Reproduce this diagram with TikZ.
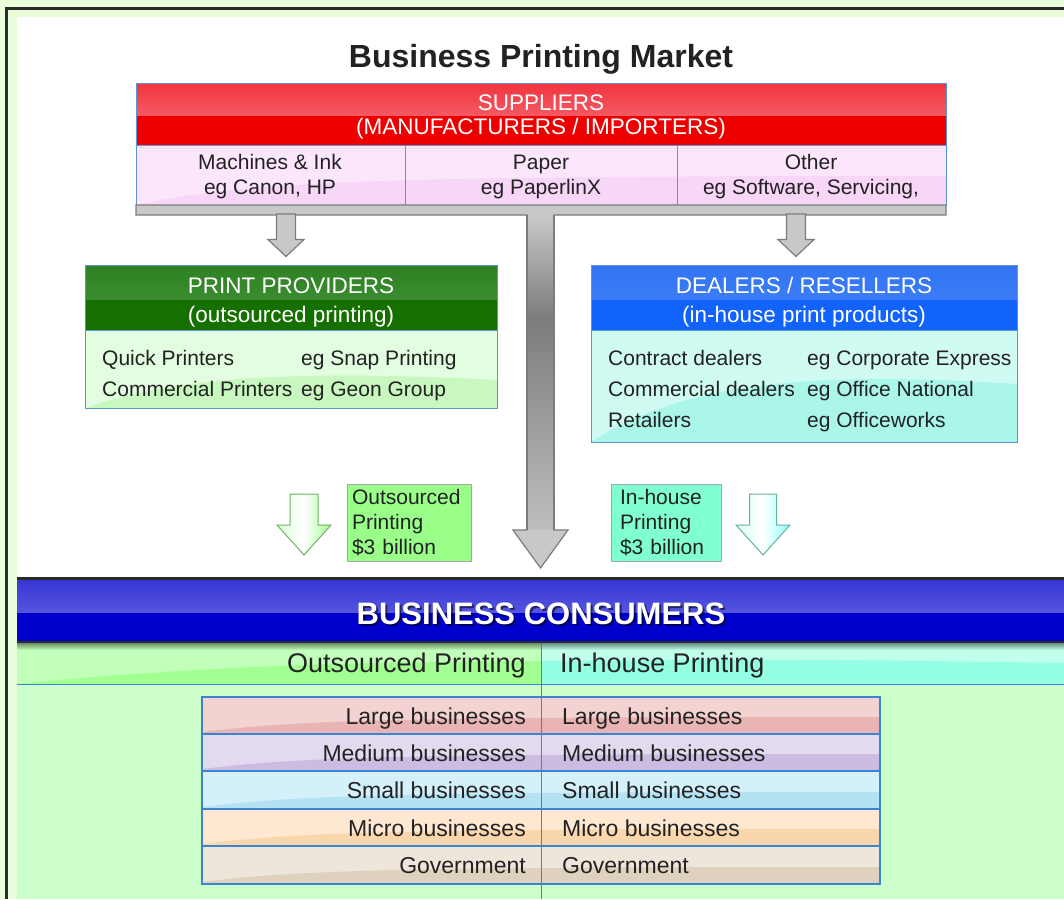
\documentclass[tikz,border=0pt]{standalone}
\usepackage{fontspec}
\setmainfont{Liberation Sans}
\usepackage{tikz}
\usetikzlibrary{calc}

\definecolor{framebg}{HTML}{EAFDDA}
\definecolor{framedk}{HTML}{2A2A2A}
\definecolor{boxline}{HTML}{5A96D6}
\definecolor{txtc}{HTML}{222222}
\definecolor{supA}{HTML}{F0343F}
\definecolor{supB}{HTML}{F55A64}
\definecolor{supC}{HTML}{EE0000}
\definecolor{pinkA}{HTML}{FCE6FC}
\definecolor{pinkB}{HTML}{F7D6F7}
\definecolor{grnA}{HTML}{2E8224}
\definecolor{grnB}{HTML}{3A8C2E}
\definecolor{grnC}{HTML}{167000}
\definecolor{lgA}{HTML}{E2FDE0}
\definecolor{lgB}{HTML}{C8F8C0}
\definecolor{bluA}{HTML}{3274F4}
\definecolor{bluB}{HTML}{3C7CF6}
\definecolor{bluC}{HTML}{1262FC}
\definecolor{cyA}{HTML}{D0FBF2}
\definecolor{cyB}{HTML}{AAF6E8}
\definecolor{grayF}{HTML}{C8C8C8}
\definecolor{grayD}{HTML}{7C7C7C}
\definecolor{outbox}{HTML}{99FF88}
\definecolor{inbox}{HTML}{80FFD0}
\definecolor{consA}{HTML}{3636D4}
\definecolor{consB}{HTML}{5656E0}
\definecolor{consC}{HTML}{0000CC}
\definecolor{bandgA}{HTML}{C2FFBA}
\definecolor{bandgB}{HTML}{A2FF92}
\definecolor{bandcA}{HTML}{C0FFEC}
\definecolor{bandcB}{HTML}{94FFE2}
\definecolor{bottombg}{HTML}{CCFFCC}
\definecolor{tline}{HTML}{3A84D0}
\definecolor{largeA}{HTML}{F3D2D2}
\definecolor{largeB}{HTML}{E8B4B4}
\definecolor{medA}{HTML}{E3DAF0}
\definecolor{medB}{HTML}{CDBCE2}
\definecolor{smallA}{HTML}{D4F0FA}
\definecolor{smallB}{HTML}{B4E2F2}
\definecolor{microA}{HTML}{FEE8D2}
\definecolor{microB}{HTML}{F9D6AC}
\definecolor{govA}{HTML}{EEE6DA}
\definecolor{govB}{HTML}{DED2BE}

\newcommand\titlefont{\fontsize{32pt}{36pt}\selectfont\bfseries}
\newcommand\hdrfont{\fontsize{22.5pt}{26pt}\selectfont}
\newcommand\bodyfont{\fontsize{21pt}{25pt}\selectfont}
\newcommand\bandfont{\fontsize{27pt}{30pt}\selectfont}
\newcommand\consfont{\fontsize{31pt}{34pt}\selectfont\bfseries}
\newcommand\tblfont{\fontsize{23pt}{26pt}\selectfont}

\tikzset{fat/.style n args={3}{to path={let \p1=(\tikztostart), \p2=(\tikztotarget) in
	(\x1-#1,\y1) -- (\x1-#1,\y2+#3) -- (\x1-#2,\y2+#3) -- (\x1,\y2) -- (\x1+#2,\y2+#3) -- (\x1+#1,\y2+#3) -- (\x1+#1,\y1) -- cycle}}}

\begin{document}
\begin{tikzpicture}[x=1pt,y=-1pt]
	\tikzstyle{txt}=[text=txtc, font=\bodyfont, inner sep=0pt, text height=15pt, text depth=0pt]
	\tikzstyle{rowl}=[txt, anchor=west]
	\tikzstyle{hdr}=[text=white, font=\hdrfont, inner sep=0pt, text height=16pt, text depth=0pt]
	\tikzstyle{tbl}=[text=txtc, font=\tblfont, inner sep=0pt, text height=16.5pt, text depth=0pt]
	\tikzstyle{boxedge}=[draw=boxline, line width=1pt]
	\tikzstyle{grayblk}=[draw=grayD, fill=grayF, line width=1.2pt]
	\tikzstyle{amount}=[draw=black!35, line width=0.6pt, font=\bodyfont, text=txtc, align=left, minimum height=77pt]

	\useasboundingbox (0,0) rectangle (1064,899);

	% page
	\fill[framebg] (0,0) rectangle (1064,899);
	\fill[white] (17,17) rectangle (1064,899);
	\draw[framedk, line width=2.5pt] (6.5,899) -- (6.5,8.5) -- (1064,8.5);

	\node[font=\titlefont, text=txtc, inner sep=0pt, text height=23pt, text depth=0pt](title) at (541,56){Business Printing Market};

	% suppliers
	\fill[top color=supA, bottom color=supB] (136,83) rectangle (946,116);
	\fill[supC] (136,116) rectangle (946,145);
	\fill[pinkA] (136,145) rectangle (946,205);
	\fill[pinkB] (136,205) .. controls (250,180) and (400,176) .. (946,176) -- (946,205) -- cycle;
	\node[boxedge, minimum width=810pt, minimum height=122pt](sup) at (541,144){};
	\draw[boxedge] (136,145) -- (946,145) (405,145) -- (405,205) (677,145) -- (677,205);
	\node[hdr](supt) at (541,102){SUPPLIERS};
	\node[hdr](supst) at (541,126){(MANUFACTURERS / IMPORTERS)};
	\node[txt](ink) at (270,162){Machines \& Ink};
	\node[txt](inkeg) at (270,187){eg Canon, HP};
	\node[txt](paper) at (541,162){Paper};
	\node[txt](papereg) at (541,187){eg PaperlinX};
	\node[txt](other) at (811,162){Other};
	\node[txt](othereg) at (811,187){eg Software, Servicing,};

	% print providers
	\fill[top color=grnA, bottom color=grnB] (85,265) rectangle (497,300);
	\fill[grnC] (85,300) rectangle (497,330);
	\fill[lgA] (85,330) rectangle (497,408);
	\fill[lgB] (85,408) .. controls (180,376) and (300,370) .. (497,380) -- (497,408) -- cycle;
	\node[boxedge, minimum width=412pt, minimum height=143pt](prov) at (291,336.5){};
	\draw[boxedge] (85,330) -- (497,330);
	\node[hdr](provt) at (291,285){PRINT PROVIDERS};
	\node[hdr](provst) at (291,314){(outsourced printing)};
	\node[rowl](quick) at (102,358){Quick Printers};
	\node[rowl](comm) at (102,389){Commercial Printers};
	\node[rowl](snap) at (301,358){eg Snap Printing};
	\node[rowl](geon) at (301,389){eg Geon Group};

	% dealers
	\fill[top color=bluA, bottom color=bluB] (591,265) rectangle (1017,300);
	\fill[bluC] (591,300) rectangle (1017,330);
	\fill[cyA] (591,330) rectangle (1017,442);
	\fill[cyB] (591,442) .. controls (680,385) and (800,370) .. (1017,384) -- (1017,442) -- cycle;
	\node[boxedge, minimum width=426pt, minimum height=177pt](deal) at (804,353.5){};
	\draw[boxedge] (591,330) -- (1017,330);
	\node[hdr](dealt) at (804,285){DEALERS / RESELLERS};
	\node[hdr](dealst) at (804,314){(in-house print products)};
	\node[rowl](contract) at (608,358){Contract dealers};
	\node[rowl](commd) at (608,389){Commercial dealers};
	\node[rowl](retail) at (608,420){Retailers};
	\node[rowl](corp) at (807,358){eg Corporate Express};
	\node[rowl](offnat) at (807,389){eg Office National};
	\node[rowl](offw) at (807,420){eg Officeworks};

	% gray flow from suppliers
	\draw[grayblk] (136,205) -- (946,205) -- (946,215) -- (554,215) -- (554,530) -- (568,530) -- (540.5,568)
		-- (513,530) -- (527,530) -- (527,215) -- (136,215) -- cycle;
	\fill[top color=grayF, bottom color=grayD] (528,216) rectangle (553,318);
	\fill[top color=grayD, bottom color=grayF!95!black] (528,318) rectangle (553,529);
	\draw[grayD, line width=1.2pt] (527,215) -- (527,530) (554,215) -- (554,530);
	\coordinate (lsrc) at (286,214);
	\coordinate (rsrc) at (796,214);
	\draw[grayblk] (lsrc) to[fat={9.5pt}{18pt}{17pt}] ([yshift=8pt]prov.north);
	\draw[grayblk] (rsrc) to[fat={9.5pt}{18pt}{17pt}] ([yshift=8pt]deal.north);

	% market value
	\coordinate (gsrc) at (304,494);
	\coordinate (gtip) at (304,555);
	\draw[draw=black!30!bandgB, line width=1pt, left color=bandgA!60, right color=bandgB, middle color=white] (gsrc) to[fat={14pt}{27pt}{30pt}] (gtip);
	\coordinate (csrc) at (763,494);
	\coordinate (ctip) at (763,555);
	\draw[draw=black!30!bandcB, line width=1pt, left color=bandcA!60, right color=cyan!45, middle color=white] (csrc) to[fat={13.5pt}{27pt}{30pt}] (ctip);
	\node[amount, fill=outbox, text width=114pt, inner xsep=5pt](outamt) at (409,522.5){Outsourced\\Printing\\\$3 billion};
	\node[amount, fill=inbox, text width=92pt, inner xsep=9pt](inamt) at (666,522.5){In-house\\Printing\\\$3 billion};

	% business consumers
	\fill[framedk] (17,577) rectangle (1064,643);
	\fill[top color=consA, bottom color=consB] (17,580) rectangle (1064,613);
	\fill[consC] (17,613) rectangle (1064,641);
	\node[font=\consfont, text=black, opacity=.55, inner sep=0pt](consshade) at (543,615.5){BUSINESS CONSUMERS};
	\node[font=\consfont, text=white, inner sep=0pt, text height=22pt, text depth=0pt](cons) at (541,613){BUSINESS CONSUMERS};

	\fill[bandgA] (17,643) rectangle (541,684);
	\fill[bandgB] (17,684) .. controls (200,666) and (350,662) .. (541,661) -- (541,684) -- cycle;
	\fill[bandcA] (541,643) rectangle (1064,684);
	\fill[bandcB] (541,661) .. controls (800,659) .. (1064,663) -- (1064,684) -- (541,684) -- cycle;
	\fill[top color=black!45!bandgA, bottom color=bandgA] (17,643) rectangle (541,650);
	\fill[top color=black!45!bandcA, bottom color=bandcA] (541,643) rectangle (1064,650);
	\node[font=\bandfont, text=txtc, inner sep=0pt, text height=19.3pt, text depth=0pt, anchor=east](outhd) at (526,663){Outsourced Printing};
	\node[font=\bandfont, text=txtc, inner sep=0pt, text height=19.3pt, text depth=0pt, anchor=west](inhd) at (560,663){In-house Printing};
	\fill[bottombg] (17,684) rectangle (1064,899);

	% consumer table
	\fill[largeA] (202,697) rectangle (880,734);
	\fill[largeB] (202,732) .. controls (300,720) and (400,717) .. (880,717) -- (880,734) -- (202,734) -- cycle;
	\fill[medA] (202,734) rectangle (880,771);
	\fill[medB] (202,769) .. controls (300,757) and (400,754) .. (880,754) -- (880,771) -- (202,771) -- cycle;
	\fill[smallA] (202,771) rectangle (880,809);
	\fill[smallB] (202,807) .. controls (300,795) and (400,792) .. (880,792) -- (880,809) -- (202,809) -- cycle;
	\fill[microA] (202,809) rectangle (880,846);
	\fill[microB] (202,844) .. controls (300,832) and (400,829) .. (880,829) -- (880,846) -- (202,846) -- cycle;
	\fill[govA] (202,846) rectangle (880,884);
	\fill[govB] (202,882) .. controls (300,870) and (400,867) .. (880,867) -- (880,884) -- (202,884) -- cycle;

	\draw[tline, line width=1pt] (17,684) -- (1064,684);
	\draw[tline, line width=1pt] (541,643) -- (541,899);
	\draw[tline, line width=1.6pt] (202,697) rectangle (880,884);
	\draw[tline, line width=1.6pt] (202,734) -- (880,734) (202,771) -- (880,771) (202,809) -- (880,809) (202,846) -- (880,846);

	\node[tbl, anchor=east](largeo) at (526,716){Large businesses};
	\node[tbl, anchor=west](largei) at (562,716){Large businesses};
	\node[tbl, anchor=east](medo) at (526,753){Medium businesses};
	\node[tbl, anchor=west](medi) at (562,753){Medium businesses};
	\node[tbl, anchor=east](smallo) at (526,790){Small businesses};
	\node[tbl, anchor=west](smalli) at (562,790){Small businesses};
	\node[tbl, anchor=east](microo) at (526,828){Micro businesses};
	\node[tbl, anchor=west](microi) at (562,828){Micro businesses};
	\node[tbl, anchor=east](govo) at (526,865){Government};
	\node[tbl, anchor=west](govi) at (562,865){Government};
\end{tikzpicture}
\end{document}
